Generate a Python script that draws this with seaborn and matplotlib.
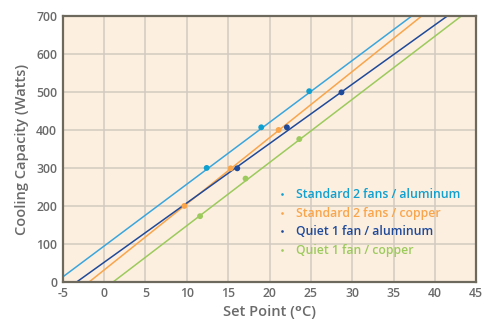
import matplotlib
matplotlib.use("Agg")
import matplotlib.pyplot as plt
import seaborn as sns
import pandas as pd
import numpy as np

# ---- data ----
series = ["Standard 2 fans / aluminum", "Standard 2 fans / copper",
          "Quiet 1 fan / aluminum", "Quiet 1 fan / copper"]
colors = ["#3aa6dd", "#f9a54b", "#1f4a9a", "#9cca5c"]
marker_colors = ["#0fa0d0", "#f9a54b", "#1f4a9a", "#9cca5c"]

pts_std_al_x = [12.4, 19.0, 24.8]
pts_std_al_y = [300, 407, 502]
pts_std_cu_x = [9.7, 15.3, 21.1]
pts_std_cu_y = [200, 299, 400]
pts_q_al_x = [16.1, 22.1, 28.7]
pts_q_al_y = [299, 407, 499]
pts_q_cu_x = [11.6, 17.1, 23.6]
pts_q_cu_y = [173, 272, 376]

# trend lines: set point where capacity is 0 W and 700 W
line_y = [0, 700]
line_std_al_x = [-5.8, 37.2]
line_std_cu_x = [-1.8, 38.4]
line_q_al_x = [-3.3, 41.5]
line_q_cu_x = [1.1, 43.2]

x_ticks = [-5, 0, 5, 10, 15, 20, 25, 30, 35, 40, 45]
y_ticks = [0, 100, 200, 300, 400, 500, 600, 700]

pts = pd.DataFrame({
    "x": pts_std_al_x + pts_std_cu_x + pts_q_al_x + pts_q_cu_x,
    "y": pts_std_al_y + pts_std_cu_y + pts_q_al_y + pts_q_cu_y,
    "s": sum([[s] * 3 for s in series], []),
})
lines = pd.DataFrame({
    "x": line_std_al_x + line_std_cu_x + line_q_al_x + line_q_cu_x,
    "y": line_y * 4,
    "s": sum([[s] * 2 for s in series], []),
})

sns.set_theme(style="white")
plt.rcParams["font.family"] = ["Open Sans", "DejaVu Sans"]
plt.rcParams["axes.unicode_minus"] = False

fig = plt.figure(figsize=(4.83, 3.27), dpi=100)
ax = fig.add_axes([0.130, 0.138, 0.856, 0.813])
ax.set_facecolor("#fdefe0")

sns.lineplot(data=lines, x="x", y="y", hue="s", palette=colors,
             hue_order=series, ax=ax, linewidth=1.1, legend=False, sort=False)
sns.scatterplot(data=pts, x="x", y="y", hue="s", palette=marker_colors,
                hue_order=series, ax=ax, s=18, edgecolor="none", zorder=5)

ax.set_xlim(-5, 45)
ax.set_ylim(0, 700)
ax.set_xticks(x_ticks)
ax.set_yticks(y_ticks)
ax.grid(True, color="#d2cbc0", linewidth=1.1)
ax.set_axisbelow(True)
for sp in ax.spines.values():
    sp.set_color("#6d695d")
    sp.set_linewidth(1.6)
ax.tick_params(length=0, labelsize=8.8, colors="#6a6a6a", pad=4)
for lab in ax.get_xticklabels() + ax.get_yticklabels():
    lab.set_fontweight("semibold")

ax.set_xlabel("Set Point (ᵒC)", fontsize=10.5, color="#6a6a6a",
              fontweight="semibold", labelpad=3)
ax.set_ylabel("Cooling Capacity (Watts)", fontsize=10.5, color="#6a6a6a",
              fontweight="semibold", labelpad=5)

leg = ax.legend(loc="upper left", bbox_to_anchor=(0.49, 0.37), frameon=False,
                fontsize=8.8, handletextpad=0.1, labelspacing=0.45,
                markerscale=0.45, borderaxespad=0)
for t, c in zip(leg.get_texts(), marker_colors):
    t.set_color(c)
    t.set_fontweight("semibold")

fig.savefig("out.png", dpi=100)
